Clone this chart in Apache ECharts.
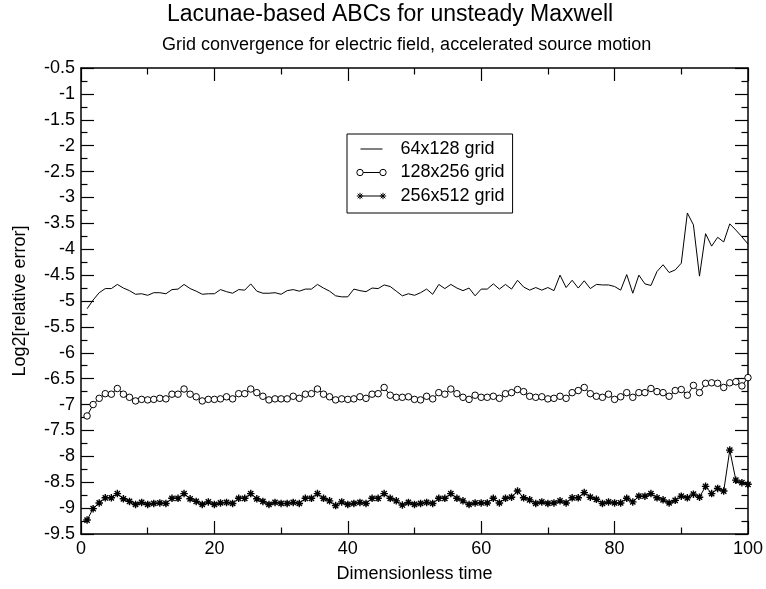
<!DOCTYPE html>
<html>
<head>
<meta charset="utf-8">
<script src="https://cdn.jsdelivr.net/npm/echarts@6/dist/echarts.min.js"></script>
<style>
html,body{margin:0;padding:0;background:#fff;}
#chart{width:766px;height:589px;}
</style>
</head>
<body>
<div id="chart"></div>
<script>
var titleText = 'Lacunae-based ABCs for unsteady Maxwell';
var subtitleText = 'Grid convergence for electric field, accelerated source motion';
var xAxisName = 'Dimensionless time';
var yAxisName = 'Log2[relative error]';
var seriesNames = ['64x128 grid', '128x256 grid', '256x512 grid'];

var times = [0.91,1.82,2.73,3.64,4.55,5.45,6.36,7.27,8.18,9.09,
10.00,10.91,11.82,12.73,13.64,14.55,15.45,16.36,17.27,18.18,
19.09,20.00,20.91,21.82,22.73,23.64,24.55,25.45,26.36,27.27,
28.18,29.09,30.00,30.91,31.82,32.73,33.64,34.55,35.45,36.36,
37.27,38.18,39.09,40.00,40.91,41.82,42.73,43.64,44.55,45.45,
46.36,47.27,48.18,49.09,50.00,50.91,51.82,52.73,53.64,54.55,
55.45,56.36,57.27,58.18,59.09,60.00,60.91,61.82,62.73,63.64,
64.55,65.45,66.36,67.27,68.18,69.09,70.00,70.91,71.82,72.73,
73.64,74.55,75.45,76.36,77.27,78.18,79.09,80.00,80.91,81.82,
82.73,83.64,84.55,85.45,86.36,87.27,88.18,89.09,90.00,90.91,
91.82,92.73,93.64,94.55,95.45,96.36,97.27,98.18,99.09,100.00];

var err64 = [-5.15,-4.98,-4.84,-4.76,-4.76,-4.68,-4.75,-4.80,-4.87,-4.86,
-4.89,-4.84,-4.84,-4.86,-4.78,-4.77,-4.68,-4.76,-4.81,-4.87,
-4.86,-4.86,-4.78,-4.82,-4.85,-4.78,-4.79,-4.67,-4.81,-4.85,
-4.85,-4.84,-4.87,-4.80,-4.78,-4.81,-4.77,-4.77,-4.68,-4.75,
-4.81,-4.90,-4.92,-4.92,-4.77,-4.80,-4.82,-4.75,-4.76,-4.69,
-4.72,-4.81,-4.90,-4.86,-4.89,-4.84,-4.77,-4.87,-4.68,-4.76,
-4.68,-4.75,-4.80,-4.75,-4.90,-4.77,-4.77,-4.67,-4.77,-4.68,
-4.77,-4.60,-4.73,-4.79,-4.74,-4.79,-4.74,-4.80,-4.50,-4.74,
-4.60,-4.75,-4.61,-4.76,-4.68,-4.69,-4.69,-4.72,-4.79,-4.49,
-4.85,-4.50,-4.67,-4.70,-4.43,-4.30,-4.45,-4.40,-4.27,-3.30,
-3.53,-4.52,-3.70,-3.94,-3.77,-3.86,-3.51,-3.63,-3.76,-3.90];

var err128 = [-7.22,-7.00,-6.88,-6.79,-6.80,-6.69,-6.80,-6.86,-6.93,-6.90,
-6.91,-6.90,-6.88,-6.89,-6.80,-6.80,-6.70,-6.80,-6.85,-6.93,
-6.90,-6.90,-6.89,-6.85,-6.89,-6.79,-6.79,-6.70,-6.77,-6.84,
-6.91,-6.89,-6.89,-6.89,-6.84,-6.88,-6.80,-6.79,-6.70,-6.80,
-6.85,-6.91,-6.89,-6.90,-6.89,-6.85,-6.88,-6.80,-6.79,-6.67,
-6.82,-6.86,-6.86,-6.85,-6.90,-6.91,-6.84,-6.89,-6.77,-6.80,
-6.70,-6.79,-6.86,-6.90,-6.82,-6.86,-6.86,-6.84,-6.88,-6.79,
-6.77,-6.71,-6.75,-6.84,-6.86,-6.85,-6.89,-6.88,-6.84,-6.88,
-6.77,-6.73,-6.67,-6.79,-6.84,-6.86,-6.80,-6.90,-6.85,-6.77,
-6.86,-6.77,-6.77,-6.69,-6.75,-6.77,-6.84,-6.73,-6.71,-6.82,
-6.63,-6.77,-6.59,-6.58,-6.59,-6.67,-6.58,-6.56,-6.64,-6.48];

var err256 = [-9.23,-9.01,-8.90,-8.80,-8.80,-8.72,-8.82,-8.87,-8.93,-8.89,
-8.93,-8.91,-8.90,-8.91,-8.81,-8.81,-8.72,-8.82,-8.87,-8.93,
-8.88,-8.93,-8.90,-8.89,-8.91,-8.81,-8.81,-8.72,-8.82,-8.87,
-8.93,-8.89,-8.91,-8.91,-8.89,-8.91,-8.81,-8.81,-8.72,-8.81,
-8.86,-8.95,-8.88,-8.93,-8.91,-8.89,-8.91,-8.81,-8.81,-8.72,
-8.81,-8.86,-8.94,-8.89,-8.93,-8.91,-8.89,-8.91,-8.81,-8.81,
-8.72,-8.81,-8.86,-8.93,-8.90,-8.90,-8.90,-8.81,-8.90,-8.81,
-8.79,-8.67,-8.80,-8.84,-8.91,-8.88,-8.91,-8.90,-8.86,-8.90,
-8.80,-8.80,-8.70,-8.79,-8.83,-8.91,-8.88,-8.90,-8.90,-8.81,
-8.88,-8.77,-8.77,-8.72,-8.80,-8.84,-8.90,-8.85,-8.77,-8.80,
-8.73,-8.79,-8.58,-8.72,-8.62,-8.67,-7.88,-8.46,-8.51,-8.54];

function pairs(xs, ys) {
  var out = [];
  for (var i = 0; i < xs.length; i++) out.push([xs[i], ys[i]]);
  return out;
}

var FONT = "'Liberation Sans', Arial, Helvetica, sans-serif";
var starPath = 'path://M0,5L10,5M5,0L5,10M1.5,1.5L8.5,8.5M8.5,1.5L1.5,8.5';
var iconLine = 'path://M0,0M30,7M4,3.5L26,3.5';
var iconCircle = 'path://M0,0M30,7M0.3,3.5A3.2,3.2,0,1,1,6.7,3.5A3.2,3.2,0,1,1,0.3,3.5ZM6.7,3.5L23.3,3.5M23.3,3.5A3.2,3.2,0,1,1,29.7,3.5A3.2,3.2,0,1,1,23.3,3.5Z';
var iconStar = 'path://M0,0M30,7M0.3,3.5L6.7,3.5M3.5,0.3L3.5,6.7M1.2,1.2L5.8,5.8M5.8,1.2L1.2,5.8M3.5,3.5L26.5,3.5M23.3,3.5L29.7,3.5M26.5,0.3L26.5,6.7M24.2,1.2L28.8,5.8M28.8,1.2L24.2,5.8';

function xAx(pos, showLabel) {
  return {
    type: 'value', position: pos, min: 0, max: 100, interval: 20,
    axisLine: {show: true, onZero: false, lineStyle: {color: '#000', width: 1.5}},
    axisTick: {show: true, inside: true, length: 13, lineStyle: {color: '#000', width: 1.2}},
    minorTick: {show: true, splitNumber: 2, length: 6.5, lineStyle: {color: '#000', width: 1.2}},
    axisLabel: {show: showLabel, color: '#000', fontSize: 18, fontFamily: FONT, margin: 6},
    splitLine: {show: false},
    name: showLabel ? xAxisName : '',
    nameLocation: 'middle', nameGap: 31,
    nameTextStyle: {color: '#000', fontSize: 18, fontFamily: FONT}
  };
}
function yAx(pos, showLabel) {
  return {
    type: 'value', position: pos, min: -9.5, max: -0.5, interval: 0.5,
    axisLine: {show: true, onZero: false, lineStyle: {color: '#000', width: 1.5}},
    axisTick: {show: true, inside: true, length: 13, lineStyle: {color: '#000', width: 1.2}},
    minorTick: {show: true, splitNumber: 2, length: 6.5, lineStyle: {color: '#000', width: 1.2}},
    axisLabel: {show: showLabel, color: '#000', fontSize: 18, fontFamily: FONT, margin: 6},
    splitLine: {show: false},
    name: showLabel ? yAxisName : '',
    nameLocation: 'middle', nameGap: 52, nameRotate: 90,
    nameTextStyle: {color: '#000', fontSize: 18, fontFamily: FONT}
  };
}

var chart = echarts.init(document.getElementById('chart'), null, {renderer: 'canvas'});
chart.setOption({
  animation: false,
  backgroundColor: '#fff',
  title: [
    {text: titleText, left: 167, top: 3, padding: 0,
     textStyle: {color: '#000', fontSize: 23, fontWeight: 'normal', fontFamily: FONT}},
    {text: subtitleText, left: 162, top: 36, padding: 0,
     textStyle: {color: '#000', fontSize: 18, fontWeight: 'normal', fontFamily: FONT}}
  ],
  grid: {left: 81, top: 68, width: 667, height: 466, containLabel: false},
  xAxis: [xAx('bottom', true), xAx('top', false)],
  yAxis: [yAx('left', true), yAx('right', false)],
  legend: {
    orient: 'vertical', left: 347, top: 134,
    padding: [5, 8, 7, 7],
    itemGap: 3.5, itemWidth: 30, itemHeight: 7,
    borderColor: '#000', borderWidth: 1, backgroundColor: '#fff',
    textStyle: {color: '#000', fontSize: 18, fontFamily: FONT, lineHeight: 20, padding: [0, 0, 0, 9]},
    itemStyle: {color: 'none', borderColor: '#000', borderWidth: 1},
    data: [
      {name: seriesNames[0], icon: iconLine},
      {name: seriesNames[1], icon: iconCircle},
      {name: seriesNames[2], icon: iconStar}
    ]
  },
  series: [
    {name: seriesNames[0], type: 'line', data: pairs(times, err64),
     showSymbol: false, symbol: 'none',
     lineStyle: {color: '#000', width: 1}, itemStyle: {color: '#000'}},
    {name: seriesNames[1], type: 'line', data: pairs(times, err128),
     symbol: 'circle', symbolSize: 6.5, showAllSymbol: true,
     lineStyle: {color: '#000', width: 1},
     itemStyle: {color: '#fff', borderColor: '#000', borderWidth: 1}},
    {name: seriesNames[2], type: 'line', data: pairs(times, err256),
     symbol: starPath, symbolSize: 7.5, showAllSymbol: true,
     lineStyle: {color: '#000', width: 1},
     itemStyle: {color: '#000', borderColor: '#000', borderWidth: 1.4}}
  ]
});
</script>
</body>
</html>
